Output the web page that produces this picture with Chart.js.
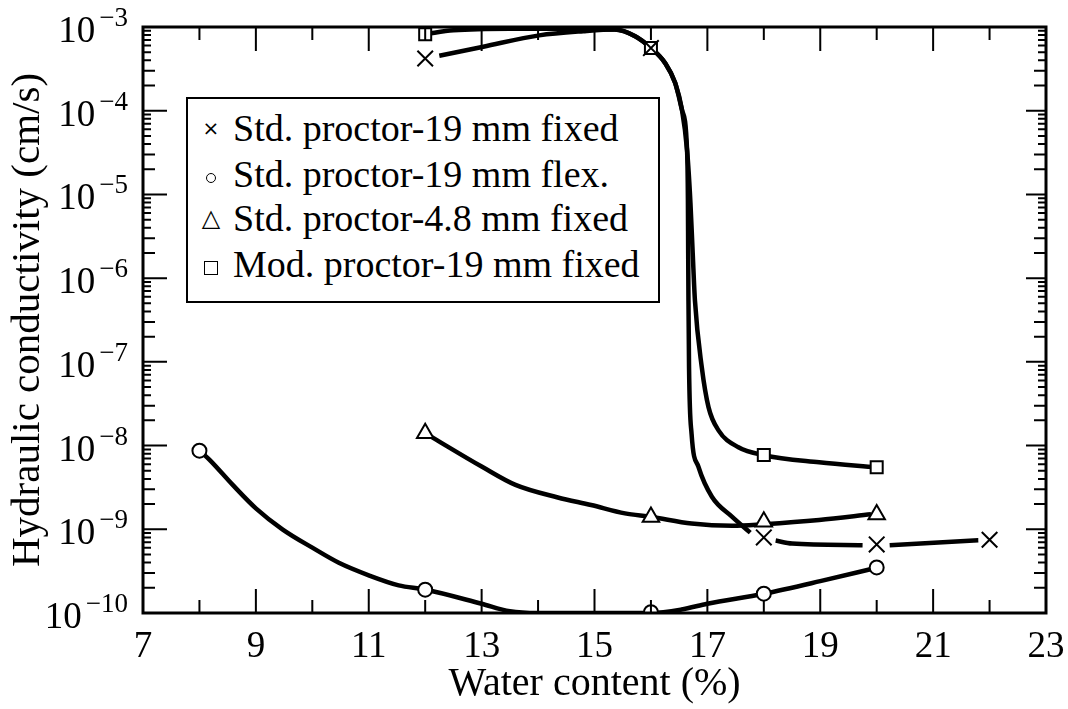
<!DOCTYPE html>
<html>
<head>
<meta charset="utf-8">
<script src="https://cdn.jsdelivr.net/npm/chart.js@4.4.0/dist/chart.umd.min.js"></script>
<style>
  body { margin: 0; background: #fff; }
  #wrap { position: relative; width: 1068px; height: 709px; }
  #legend {
    position: absolute; left: 186px; top: 97px; width: 470px; height: 202px;
    border: 2px solid #000; background: #fff;
    font-family: "Liberation Serif", "DejaVu Serif", "Times New Roman", Times, serif; font-size: 38px; color: #000;
  }
  #legend .row { position: absolute; left: 0; height: 44px; line-height: 44px; white-space: nowrap; }
  #legend .mk { position: absolute; left: 13px; width: 20px; text-align: center; }
  #legend .txt { position: absolute; left: 45px; }
  .circ { display: inline-block; width: 8px; height: 8px; border: 1.5px solid #000; border-radius: 50%; vertical-align: middle; }
  .sq { display: inline-block; width: 12px; height: 12px; border: 1.5px solid #000; vertical-align: middle; }
</style>
</head>
<body>
<div id="wrap">
  <canvas id="kChart" width="1068" height="709"></canvas>
  <div id="legend">
    <div class="row" style="top:7px"><span class="mk" style="font-family:'DejaVu Sans';font-size:20px">&times;</span><span class="txt">Std. proctor-19 mm fixed</span></div>
    <div class="row" style="top:53px"><span class="mk"><span class="circ"></span></span><span class="txt">Std. proctor-19 mm flex.</span></div>
    <div class="row" style="top:97px"><span class="mk" style="font-family:'DejaVu Sans';font-size:24px">&#9651;</span><span class="txt">Std. proctor-4.8 mm fixed</span></div>
    <div class="row" style="top:143px"><span class="mk"><span class="sq"></span></span><span class="txt">Mod. proctor-19 mm fixed</span></div>
  </div>
</div>
<script>
// medições (marcadores)
const stdFixedX = [12, 16, 18, 20, 22];
const stdFixedK = [4.2e-4, 5.6e-4, 8.0e-10, 6.6e-10, 7.5e-10];
const stdFlexX = [8, 12, 16, 18, 20];
const stdFlexK = [8.7e-9, 1.9e-10, 1.02e-10, 1.7e-10, 3.5e-10];
const std48X = [12, 16, 18, 20];
const std48K = [1.4e-8, 1.4e-9, 1.23e-9, 1.5e-9];
const modFixedX = [12, 16, 18, 20];
const modFixedK = [8.2e-4, 5.6e-4, 7.7e-9, 5.5e-9];

// curvas ajustadas (null = interrupção da linha)
const stdFixedCurveX = [12.25, 13.03, 14.02, 14.8, 15.36, 15.72, 16.0, 16.25, 16.43, 16.55, 16.64, 16.655, 16.66, 16.665, 16.675, 16.72, 16.84, 17.08, 17.44, 17.76, 18.0, 18.21, 18.5, 19.75, 20.0, 20.23, 21.8];
const stdFixedCurveK = [4.54e-4, 5.82e-4, 7.94e-4, 8.91e-4, 9.33e-4, 7.76e-4, 5.62e-4, 3.72e-4, 2.14e-4, 1.02e-4, 3.39e-5, 8.71e-6, 2.0e-6, 5.37e-7, 8.71e-8, 1.38e-8, 5.62e-9, 2.45e-9, 1.41e-9, 9.12e-10, null, 7.33e-10, 6.76e-10, 6.46e-10, null, 6.46e-10, 7.41e-10];
const modFixedCurveX = [12.0, 12.5, 13.5, 14.5, 15.36, 15.72, 16.0, 16.25, 16.43, 16.55, 16.64, 16.7, 16.74, 16.78, 16.9, 17.02, 17.2, 17.55, 18.0, 18.98, 19.99];
const modFixedCurveK = [8.22e-4, 9.12e-4, 9.55e-4, 9.55e-4, 9.33e-4, 7.76e-4, 5.62e-4, 3.72e-4, 2.14e-4, 1.02e-4, 3.39e-5, 7.94e-6, 2.0e-6, 5.37e-7, 8.71e-8, 2.88e-8, 1.51e-8, 9.55e-9, 7.67e-9, 6.31e-9, 5.5e-9];
const stdFlexCurveX = [8.0, 8.18, 8.59, 9.0, 9.47, 10.0, 10.47, 11.0, 11.53, 12.0, 13.0, 13.5, 14.0, 15.0, 16.0, 16.54, 17.0, 18.0, 19.0, 20.0];
const stdFlexCurveK = [8.71e-9, 6.76e-9, 3.39e-9, 1.78e-9, 1.0e-9, 6.03e-10, 3.98e-10, 2.82e-10, 2.14e-10, 1.91e-10, 1.29e-10, 1.05e-10, 1.0e-10, 1.0e-10, 1.0e-10, 1.1e-10, 1.29e-10, 1.7e-10, 2.4e-10, 3.47e-10];
const std48CurveX = [12.0, 12.2, 13.0, 13.6, 14.35, 14.94, 15.54, 16.0, 16.72, 17.44, 18.0, 18.98, 19.9];
const std48CurveK = [1.41e-8, 1.17e-8, 5.62e-9, 3.39e-9, 2.4e-9, 1.95e-9, 1.55e-9, 1.41e-9, 1.17e-9, 1.1e-9, 1.15e-9, 1.29e-9, 1.51e-9];

// eixos
const xTickLabels = [7, 9, 11, 13, 15, 17, 19, 21, 23];
const yTickValues = [1e-3, 1e-4, 1e-5, 1e-6, 1e-7, 1e-8, 1e-9, 1e-10];
const yTickExps = ['\u22123', '\u22124', '\u22125', '\u22126', '\u22127', '\u22128', '\u22129', '\u221210'];
const yMinorMant = [2, 3, 4, 5, 6, 7, 8, 9];

const SERIF = '"Liberation Serif", "DejaVu Serif", "Times New Roman", Times, serif';

function pts(xs, ys) {
    return xs.map((x, i) => ({ x: x, y: ys[i] }));
}

function curve(xs, ys) {
    return {
        data: pts(xs, ys),
        showLine: true,
        borderColor: '#000',
        borderWidth: 4.5,
        pointRadius: 0,
        cubicInterpolationMode: 'monotone',
        spanGaps: false,
        order: 2
    };
}

function marks(xs, ys, style, r) {
    return {
        data: pts(xs, ys),
        showLine: false,
        pointStyle: style,
        pointRadius: r,
        pointBorderWidth: 2,
        pointBorderColor: '#000',
        pointBackgroundColor: '#fff',
        order: 1
    };
}

// moldura, marcas internas e rótulos dos eixos
const frameTicks = {
    id: 'frameTicks',
    afterDraw(chart) {
        const ctx = chart.ctx;
        const a = chart.chartArea;
        const x = chart.scales.x;
        const y = chart.scales.y;
        ctx.save();
        ctx.strokeStyle = '#000';
        ctx.lineWidth = 2;
        ctx.beginPath();
        yTickValues.forEach((v, i) => {
            const py = y.getPixelForValue(v);
            ctx.moveTo(a.left, py); ctx.lineTo(a.left + 24, py);
            ctx.moveTo(a.right, py); ctx.lineTo(a.right - 20, py);
            if (i === 0) return;
            yMinorMant.forEach(m => {
                const pm = y.getPixelForValue(m * v);
                const len = m <= 3 ? 12 : 8;
                ctx.moveTo(a.left, pm); ctx.lineTo(a.left + len, pm);
                ctx.moveTo(a.right, pm); ctx.lineTo(a.right - len, pm);
            });
        });
        for (let v = 7; v <= 23; v++) {
            const px = x.getPixelForValue(v);
            const len = xTickLabels.includes(v) ? 24 : 13;
            ctx.moveTo(px, a.bottom); ctx.lineTo(px, a.bottom - len);
            ctx.moveTo(px, a.top); ctx.lineTo(px, a.top + len);
        }
        ctx.stroke();
        ctx.lineWidth = 3;
        ctx.strokeRect(a.left, a.top, a.right - a.left, a.bottom - a.top);

        ctx.fillStyle = '#000';
        ctx.textBaseline = 'alphabetic';
        ctx.textAlign = 'center';
        ctx.font = '37px ' + SERIF;
        xTickLabels.forEach(v => {
            ctx.fillText(String(v), x.getPixelForValue(v), a.bottom + 44);
        });

        ctx.textAlign = 'left';
        yTickValues.forEach((v, i) => {
            const py = y.getPixelForValue(v);
            ctx.font = '37px ' + SERIF;
            const w1 = ctx.measureText('10').width;
            ctx.font = '27px ' + SERIF;
            const w2 = ctx.measureText(yTickExps[i]).width;
            const x0 = a.left - 15 - w1 - w2 - 4;
            ctx.font = '37px ' + SERIF;
            ctx.fillText('10', x0, py + 15);
            ctx.font = '27px ' + SERIF;
            ctx.fillText(yTickExps[i], x0 + w1 + 4, py - 1);
        });
        ctx.restore();
    }
};

const ctx = document.getElementById('kChart').getContext('2d');
const kChart = new Chart(ctx, {
    type: 'scatter',
    data: {
        datasets: [
            curve(stdFixedCurveX, stdFixedCurveK),
            curve(modFixedCurveX, modFixedCurveK),
            curve(stdFlexCurveX, stdFlexCurveK),
            curve(std48CurveX, std48CurveK),
            marks(stdFixedX, stdFixedK, 'crossRot', 11),
            marks(stdFlexX, stdFlexK, 'circle', 7),
            marks(std48X, std48K, 'triangle', 9.5),
            marks(modFixedX, modFixedK, 'rect', 8.5)
        ]
    },
    options: {
        responsive: false,
        animation: false,
        layout: { padding: { top: 27, right: 22, left: 0, bottom: 0 } },
        plugins: { legend: { display: false }, tooltip: { enabled: false } },
        scales: {
            x: {
                type: 'linear',
                min: 7,
                max: 23,
                grid: { display: false, drawTicks: false },
                border: { display: false },
                ticks: { display: false, stepSize: 1 },
                title: {
                    display: true,
                    text: 'Water content (%)',
                    color: '#000',
                    font: { family: SERIF, size: 40 },
                    padding: { top: 0, bottom: 1 }
                },
                afterFit: s => { s.height = 96; }
            },
            y: {
                type: 'logarithmic',
                min: 1e-10,
                max: 1e-3,
                grid: { display: false, drawTicks: false },
                border: { display: false },
                ticks: { display: false },
                title: {
                    display: true,
                    text: 'Hydraulic conductivity (cm/s)',
                    color: '#000',
                    font: { family: SERIF, size: 41 },
                    padding: { top: 4, bottom: 0 }
                },
                afterFit: s => { s.width = 143; }
            }
        }
    },
    plugins: [frameTicks]
});
</script>
</body>
</html>
